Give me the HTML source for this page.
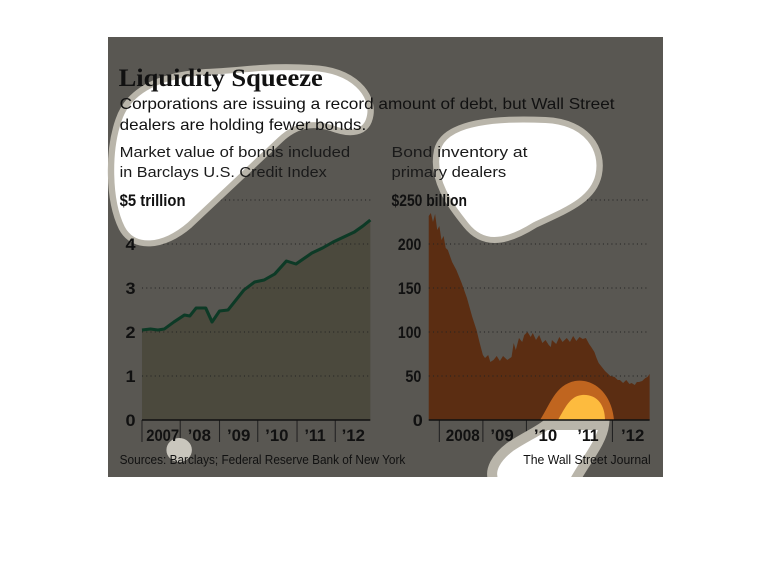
<!DOCTYPE html>
<html><head><meta charset="utf-8"><style>
body{margin:0;background:#fff;}
svg{display:block;}
text{font-family:"Liberation Sans",sans-serif;}
.n{font-weight:bold;font-size:17px;fill:#111;}
</style></head><body>
<svg width="770" height="572" viewBox="0 0 770 572" xmlns="http://www.w3.org/2000/svg">
<rect x="0" y="0" width="770" height="572" fill="#fff"/>
<rect x="108" y="37" width="555" height="440" fill="#595752"/>
<g transform="translate(108,0) scale(1.062,1) translate(-108,0)">
<path d="M140,330 L161,329 170,322 180,315 185,316 191,308 200,308 206,322 213,311 221,310 236,290 246,282 255,280 265,274 276,261 285,264 300,253 310,248 320,242 330,237 340,232 348,226 355,220 L355,420 L140,420 Z" fill="#4b493d"/>
<polyline points="140,330 148,329 155,330 161,329 170,322 180,315 185,316 191,308 200,308 206,322 213,311 221,310 236,290 246,282 255,280 265,274 276,261 285,264 300,253 310,248 320,242 330,237 340,232 348,226 355,220" fill="none" stroke="#0d3a26" stroke-width="3" stroke-linejoin="round"/>

<path d="M410,420 L410,216 412,213 414,222 416,214 418,230 420,226 422,240 424,236 426,248 428,250 432,262 436,270 441,283 446,298 451,317 455,330 458,343 461,355 463,358 466,355 468,362 471,360 474,356 477,361 480,356 484,360 488,357 490,343 492,350 495,338 498,342 500,335 503,332 506,337 508,333 511,340 514,335 517,343 520,340 523,345 525,347 526,340 530,344 533,337 536,342 540,338 543,342 546,336 549,341 552,337 555,339 558,338 561,344 563,347 566,352 568,358 570,363 573,367 576,371 578,373 581,376 585,377 588,380 590,380 593,383 596,380 599,384 601,383 604,385 606,382 608,382 611,381 614,378 616,377 618,374 L618,420 Z" fill="#5b2d12"/>

<g stroke="#222" stroke-width="1" stroke-dasharray="1,3">
<line x1="190" y1="200" x2="355" y2="200"/>
<line x1="140" y1="244" x2="355" y2="244"/>
<line x1="140" y1="288" x2="355" y2="288"/>
<line x1="140" y1="332" x2="355" y2="332"/>
<line x1="140" y1="376" x2="355" y2="376"/>
<line x1="455" y1="200" x2="618" y2="200"/>
<line x1="410" y1="244" x2="618" y2="244"/>
<line x1="410" y1="288" x2="618" y2="288"/>
<line x1="410" y1="332" x2="618" y2="332"/>
<line x1="410" y1="376" x2="618" y2="376"/>
</g>
<g stroke="#222" stroke-width="1">
<line x1="140" y1="420" x2="140" y2="442"/><line x1="176" y1="420" x2="176" y2="442"/><line x1="213" y1="420" x2="213" y2="442"/><line x1="249" y1="420" x2="249" y2="442"/><line x1="286" y1="420" x2="286" y2="442"/><line x1="322" y1="420" x2="322" y2="442"/>
<line x1="420" y1="420" x2="420" y2="442"/><line x1="461" y1="420" x2="461" y2="442"/><line x1="502" y1="420" x2="502" y2="442"/><line x1="542" y1="420" x2="542" y2="442"/><line x1="583" y1="420" x2="583" y2="442"/>
</g>

<path d="M121,228 C108,200 108,150 118,120 C128,88 160,75 200,72 C240,70 260,65 300,68 C340,70 358,95 355,115 C352,135 335,135 318,128 C300,122 285,125 270,140 C245,165 215,195 185,225 C160,248 132,250 121,228 Z" fill="#fff" stroke="#b9b5aa" stroke-width="6"/>
<path d="M418,150 C425,120 480,118 520,120 C560,122 575,150 570,175 C565,200 540,210 510,225 C480,245 460,245 445,225 C430,205 412,180 418,150 Z" fill="#fff" stroke="#b9b5aa" stroke-width="6"/>
<circle cx="175" cy="450" r="12" fill="#c9c6bd"/>
</g>

<!-- bottom right overlay (screen coords) -->
<path d="M540,420 C550,405 555,385 575,381 C595,378 612,395 614,420 Z" fill="#c0651f"/>
<path d="M558,420 C565,408 570,396 582,395 C597,394 605,405 605,420 Z" fill="#fdbb3e"/>
<path d="M546,425 L604,425 C602,442 586,460 574,482 L494,482 C488,470 497,457 510,447 C525,437 537,432 546,425 Z" fill="#fff" stroke="#b9b5aa" stroke-width="10"/>
<rect x="520" y="412" width="110" height="7" fill="none"/>

<g transform="translate(108,0) scale(1.062,1) translate(-108,0)">
<g stroke="#111" stroke-width="1.5">
<line x1="140" y1="420" x2="355" y2="420"/>
<line x1="410" y1="420" x2="618" y2="420"/>
</g>
<text x="118" y="86" font-weight="bold" font-size="25" fill="#111" style="font-family:'Liberation Serif',serif">Liquidity Squeeze</text>
<text x="119" y="109" font-size="16" fill="#111" textLength="466" lengthAdjust="spacingAndGlyphs">Corporations are issuing a record amount of debt, but Wall Street</text>
<text x="119" y="130" font-size="16" fill="#111">dealers are holding fewer bonds.</text>
<text x="119" y="157" font-size="15" fill="#1a1a1a" textLength="217" lengthAdjust="spacingAndGlyphs">Market value of bonds included</text>
<text x="119" y="177" font-size="15" fill="#1a1a1a" textLength="195" lengthAdjust="spacingAndGlyphs">in Barclays U.S. Credit Index</text>
<text x="375" y="157" font-size="15" fill="#1a1a1a" textLength="128" lengthAdjust="spacingAndGlyphs">Bond inventory at</text>
<text x="375" y="177" font-size="15" fill="#1a1a1a" textLength="108" lengthAdjust="spacingAndGlyphs">primary dealers</text>

<text class="n" x="119" y="206" textLength="62" lengthAdjust="spacingAndGlyphs">$5 trillion</text>
<g class="n" text-anchor="end">
<text x="134" y="250">4</text><text x="134" y="294">3</text><text x="134" y="338">2</text><text x="134" y="382">1</text><text x="134" y="426">0</text>
</g>
<text class="n" x="375" y="206" textLength="71" lengthAdjust="spacingAndGlyphs">$250 billion</text>
<g class="n">
<text x="381" y="250" textLength="22" lengthAdjust="spacingAndGlyphs">200</text>
<text x="381" y="294" textLength="22" lengthAdjust="spacingAndGlyphs">150</text>
<text x="381" y="338" textLength="22" lengthAdjust="spacingAndGlyphs">100</text>
<text x="388" y="382" textLength="15" lengthAdjust="spacingAndGlyphs">50</text>
<text x="395" y="426">0</text>
</g>
<g class="n">
<text x="144" y="441" textLength="31" lengthAdjust="spacingAndGlyphs">2007</text>
<text x="183" y="441" textLength="22" lengthAdjust="spacingAndGlyphs">’08</text>
<text x="220" y="441" textLength="22" lengthAdjust="spacingAndGlyphs">’09</text>
<text x="256" y="441" textLength="22" lengthAdjust="spacingAndGlyphs">’10</text>
<text x="293" y="441" textLength="20" lengthAdjust="spacingAndGlyphs">’11</text>
<text x="328" y="441" textLength="22" lengthAdjust="spacingAndGlyphs">’12</text>
<text x="426" y="441" textLength="32" lengthAdjust="spacingAndGlyphs">2008</text>
<text x="468" y="441" textLength="22" lengthAdjust="spacingAndGlyphs">’09</text>
<text x="509" y="441" textLength="22" lengthAdjust="spacingAndGlyphs">’10</text>
<text x="550" y="441" textLength="20" lengthAdjust="spacingAndGlyphs">’11</text>
<text x="591" y="441" textLength="22" lengthAdjust="spacingAndGlyphs">’12</text>
</g>

<text x="119" y="464" font-size="13" fill="#111" textLength="269" lengthAdjust="spacingAndGlyphs">Sources: Barclays; Federal Reserve Bank of New York</text>
<text x="499" y="464" font-size="13" fill="#111" textLength="120" lengthAdjust="spacingAndGlyphs">The Wall Street Journal</text>
</g>
<rect x="108" y="477" width="555" height="95" fill="#fff"/>
<rect x="663" y="37" width="107" height="440" fill="#fff"/>
</svg>
</body></html>
